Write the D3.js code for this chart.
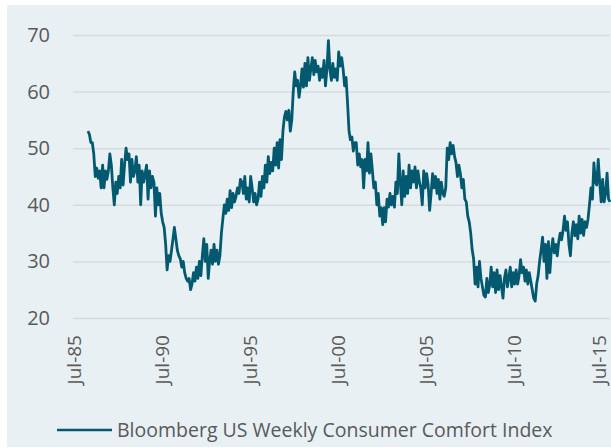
<!DOCTYPE html>
<html>
<head>
<meta charset="utf-8">
<script src="https://cdn.jsdelivr.net/npm/d3@7"></script>
<style>
  body { margin: 0; background: #fff; }
  svg { display: block; }
  svg text { font-family: "Open Sans", sans-serif; }
</style>
</head>
<body>
<div id="chart"></div>
<script>
// monthly readings, first year starts in April 1986
const startYear = 1986, startMonth = 3;
const values = [
  53, 52.5, 51, 51, 49, 45, 46.5, 44.7, 46,
  43, 47, 43, 46, 44.5, 46, 49, 47, 43, 40, 44, 42,
  45, 43, 48, 43.5, 47, 50, 48, 49, 44, 48, 45, 46,
  48.5, 44, 47, 40, 46, 44, 45.5, 47, 41, 46, 43, 45,
  44, 38, 43, 40, 42, 38.5, 37, 36, 33, 28.5, 31, 30,
  32, 34, 36, 34, 32, 31, 30.5, 29, 30, 28, 27, 26.5,
  27, 25, 26, 28, 26.5, 29, 27, 30, 27.5, 31, 34, 30,
  33, 27, 30, 32, 29.5, 33, 30, 32, 29.5, 31, 35, 37.5,
  40, 38.5, 41, 39, 42.5, 39.5, 42, 40.5, 41.5, 43, 42, 44.5,
  44, 42, 45, 41, 43, 40.5, 45, 43, 40.5, 42, 40, 41,
  44, 41.5, 45, 43, 47, 44, 48.5, 45.5, 47.5, 46, 50, 47,
  51, 46.5, 51.5, 48, 53, 55.5, 56.5, 55, 56.7, 53, 55, 60,
  63.5, 61, 62, 59, 61, 64, 60.8, 65, 61, 66, 62, 64,
  66, 63, 65.5, 63.5, 64.5, 62, 64, 62.5, 65.5, 61, 64, 69,
  64, 62, 65, 62.5, 64, 62, 67, 64.5, 66, 64, 61, 62.5,
  58, 53, 51.5, 52, 49.5, 51, 51, 47, 49, 46.7, 48, 43,
  48, 46, 51, 45.6, 49, 46, 43, 44, 40, 42, 38, 39.5,
  36.5, 39.5, 37, 41, 39.6, 42, 40, 41.5, 39.6, 44, 42, 49,
  44, 40, 46, 41.5, 45, 42, 47, 43, 46, 44, 46.7, 43,
  46, 44, 43, 40, 46, 43, 45.5, 43.5, 39, 42, 45.5, 43,
  45, 42, 44.5, 41, 44, 42, 41.5, 43, 50, 48, 51, 49,
  50.5, 48.5, 47.5, 45, 47, 45.5, 43, 44.5, 41, 40.5, 38, 37,
  35, 32, 30.5, 26, 29, 25.5, 30, 27, 25.5, 24, 23.7, 27,
  24.5, 26, 29, 25.5, 28, 24.5, 28.5, 25, 27.5, 25.5, 23.5, 27,
  28.5, 25.5, 27, 29, 25.5, 28, 26, 28.5, 26, 27.5, 30.3, 28,
  29, 26.5, 28.5, 26, 28, 26.5, 25, 23.5, 23, 26, 27.5, 30,
  32, 34.3, 30, 33, 27, 33.5, 28, 32, 34, 31.5, 33, 31,
  33.5, 35, 33.8, 35.5, 38, 35.5, 37, 33, 31, 35, 37, 34.5,
  36.5, 34, 38, 35, 37.4, 34.6, 37, 36, 37.5, 40, 43, 41,
  47.4, 44, 43.5, 48, 44, 40.5, 44.5, 40.5, 42, 45.6, 41, 40.5
];
const yTicks = [20, 30, 40, 50, 60, 70];
const xTickYears = [1985, 1990, 1995, 2000, 2005, 2010, 2015];
const seriesName = "Bloomberg US Weekly Consumer Comfort Index";

const W = 611, H = 448;
const margin = {top: 35, right: 1, bottom: 130, left: 73},
    width = W - margin.left - margin.right,
    height = H - margin.top - margin.bottom;

const data = values.map((v, i) => ({
  date: new Date(startYear, startMonth + i, 15),
  value: v
}));

const svg = d3.select("#chart")
  .append("svg")
    .attr("width", W)
    .attr("height", H);

// panel background
svg.append("rect")
  .attr("x", 7).attr("y", 5)
  .attr("width", W - 7).attr("height", 442)
  .attr("fill", "#e8f0f3");

const g = svg.append("g")
  .attr("transform", `translate(${margin.left}, ${margin.top})`);

const x = d3.scaleTime()
  .domain([new Date(1985, 5, 10), new Date(2015, 11, 15)])
  .range([0, width]);

const y = d3.scaleLinear()
  .domain([20, 70])
  .range([height, 0]);

// gridlines + y labels
const yAxis = g.append("g")
  .call(d3.axisLeft(y).tickValues(yTicks).tickSize(-width).tickPadding(23));
yAxis.attr("font-family", null);
yAxis.select(".domain").remove();
yAxis.selectAll(".tick line").attr("stroke", "#d5dcdf").attr("stroke-width", 1.5);
yAxis.selectAll(".tick text")
  .attr("fill", "#595959")
  .style("font-size", "20px");

// x labels, rotated
const xAxis = g.append("g")
  .attr("transform", `translate(0, ${height})`)
  .call(d3.axisBottom(x)
    .tickValues(xTickYears.map(yr => new Date(yr, 6, 1)))
    .tickFormat(d3.timeFormat("Jul-%y"))
    .tickSize(0));
xAxis.attr("font-family", null);
xAxis.select(".domain").remove();
xAxis.selectAll(".tick text")
  .attr("fill", "#595959")
  .style("font-size", "19px")
  .attr("text-anchor", "end")
  .attr("transform", "rotate(-90)")
  .attr("x", -17)
  .attr("y", 0)
  .attr("dy", (d, i, n) => i === n.length - 1 ? "0.2em" : "0.35em");

// the series
const line = d3.line()
  .x(d => x(d.date))
  .y(d => y(d.value));

g.append("path")
  .datum(data)
  .attr("fill", "none")
  .attr("stroke", "#035a70")
  .attr("stroke-width", 2.8)
  .attr("stroke-linejoin", "round")
  .attr("d", line);

// legend
const legend = svg.append("g").attr("transform", "translate(57, 430)");
legend.append("line")
  .attr("x1", 0).attr("x2", 55)
  .attr("stroke", "#035a70")
  .attr("stroke-width", 2.5);
legend.append("text")
  .attr("x", 60)
  .attr("dy", "0.35em")
  .attr("fill", "#595959")
  .style("font-size", "19.5px")
  .text(seriesName);
</script>
</body>
</html>
